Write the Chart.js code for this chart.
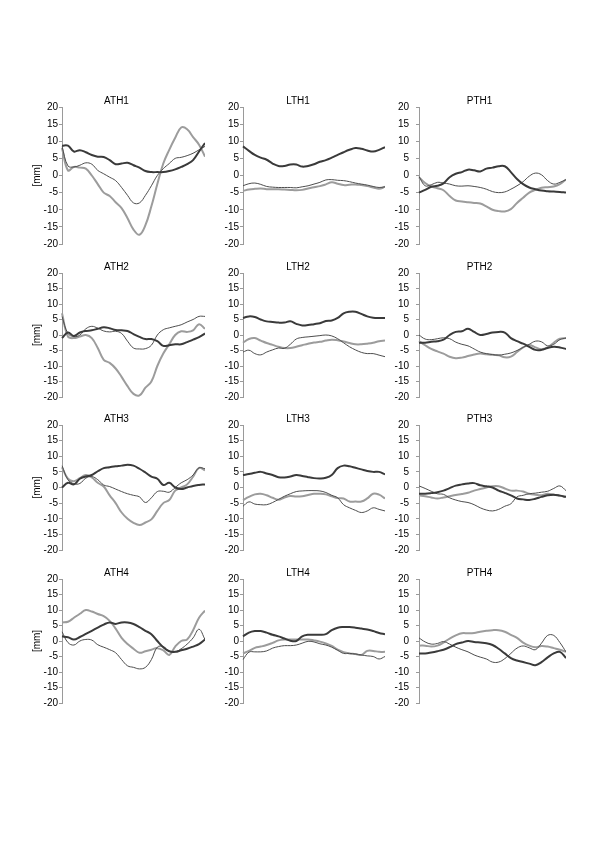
<!DOCTYPE html>
<html>
<head>
<meta charset="utf-8">
<style>
  body { margin: 0; background: #fff; }
  #page { position: relative; width: 600px; height: 849px; }
  #page canvas { position: absolute; }
</style>
</head>
<body>
<div id="page"></div>
<script src="https://cdn.jsdelivr.net/npm/chart.js"></script>
<script>
// x: sample index (no axis labels shown)
const samples = [1,2,3,4,5,6,7,8,9,10,11,12,13,14,15,16,17,18,19,20,21,22,23,24,25];
const yTicks = [-20, -15, -10, -5, 0, 5, 10, 15, 20];

// each panel: a = thick dark line, b = thin line, c = thick grey line  [mm]
const ATH1_a = [8.7, 8.7, 7, 7.4, 6.8, 6, 5.5, 5.4, 4.5, 3.3, 3.5, 3.7, 3, 2.3, 1.3, 1, 1, 1, 1.3, 1.8, 2.5, 3.3, 4.5, 7, 9.5];
const ATH1_b = [8.5, 2.8, 2.5, 3, 3.7, 3.3, 1.5, 0.5, -0.5, -1.5, -3.5, -5.8, -8, -8, -5.8, -3, 0, 2, 3.5, 5, 5.3, 5.8, 6.5, 7.5, 8.5];
const ATH1_c = [8, 1.5, 2.5, 2.3, 2, 0, -2.5, -5, -6, -7.8, -9.5, -12.5, -15.8, -17.3, -14.5, -9, -2.5, 3.5, 7.5, 11, 14, 13.5, 11.2, 9, 5.5];

const LTH1_a = [8.5, 7.2, 6, 5.2, 4.6, 3.5, 2.8, 2.8, 3.2, 3.2, 2.6, 2.8, 3.3, 4, 4.5, 5.2, 6, 6.8, 7.5, 8, 7.8, 7.3, 7, 7.5, 8.3];
const LTH1_b = [-3, -2.4, -2.2, -2.6, -3.2, -3.4, -3.5, -3.5, -3.5, -3.6, -3.3, -3, -2.5, -2, -1.3, -1.2, -1.4, -1.5, -1.8, -2.2, -2.5, -2.8, -3.2, -3.5, -3.3];
const LTH1_c = [-4.5, -4.1, -3.9, -3.8, -4, -4, -4, -4.1, -4.2, -4.3, -4.2, -3.8, -3.4, -3.1, -2.6, -2, -2.4, -2.8, -2.7, -2.6, -2.8, -3.1, -3.5, -3.9, -3.3];

const PTH1_a = [-5, -4.2, -3.3, -3, -2.3, -0.5, 0.5, 1, 1.7, 1.5, 1.2, 2, 2.3, 2.7, 2.7, 1, -1, -2.5, -3.5, -4, -4.4, -4.6, -4.7, -4.8, -5];
const PTH1_b = [-0.3, -3, -2.7, -2, -2.2, -2.5, -3, -3.1, -3, -3.2, -3.5, -4, -4.7, -5, -4.8, -4, -3, -1.8, -0.2, 0.7, 0.2, -1.5, -2.5, -2, -1.2];
const PTH1_c = [-0.5, -2.2, -3.2, -3.7, -4.3, -6, -7.3, -7.6, -7.8, -8, -8.2, -9, -10, -10.4, -10.5, -9.8, -8, -6.5, -5, -4.2, -3.6, -3.4, -3.2, -2.5, -1.2];

const ATH2_a = [-1, 0.8, -0.3, 0.8, 1.3, 1.5, 2, 2.5, 2.2, 1.6, 1.5, 1.3, 0.3, -0.6, -1.3, -1.3, -2, -3.5, -3.3, -3, -3, -2.3, -1.5, -0.7, 0.5];
const ATH2_b = [6, 0.5, -0.5, 0, 2, 2.8, 2.2, 1.3, 1, 1.2, 0.5, -2, -4.2, -4.5, -4.4, -3.3, 0, 1.7, 2.3, 2.8, 3.3, 4.2, 5, 6, 6];
const ATH2_c = [7, -0.5, -1, -0.5, 0, -1, -4.2, -8, -9, -10.8, -13.5, -16.5, -19, -19.5, -17, -15, -10, -6, -3, 0, 1.2, 1, 1.5, 3.5, 2];

const LTH2_a = [5.5, 6, 5.8, 5, 4.4, 4.2, 4, 4, 4.4, 3.6, 3.1, 3.2, 3.5, 3.8, 4.5, 4.7, 5.5, 7, 7.5, 7.5, 6.8, 6, 5.6, 5.5, 5.5];
const LTH2_b = [-5.5, -4.9, -6, -6.4, -5.5, -4.8, -4.2, -4.3, -3, -1.3, -0.8, -0.6, -0.4, -0.2, 0, -0.3, -1.2, -2.5, -3.8, -4.8, -5.6, -6, -6, -6.5, -7];
const LTH2_c = [-2.5, -1.3, -1, -1.8, -2.6, -3.2, -3.8, -4.2, -4.2, -3.8, -3.3, -2.8, -2.4, -2.2, -1.8, -1.5, -1.7, -2.1, -2.6, -3, -3, -2.8, -2.5, -2, -1.8];

const PTH2_a = [-2.5, -2.5, -2.2, -2, -1.5, 0, 1, 1.2, 2, 1, 0, 0.3, 0.8, 1, 0.8, -1, -2, -2.8, -3.8, -4.8, -4.8, -4.2, -3.8, -4, -4.5];
const PTH2_b = [0, -1.3, -1.5, -1.2, -0.9, -1.2, -2.3, -3, -3.5, -4.5, -5.5, -6, -6.3, -6.5, -6.2, -5.8, -5, -4, -3, -2, -2.2, -3.5, -3, -1.5, -1];
const PTH2_c = [-2, -3.3, -4.5, -5.3, -6, -7, -7.5, -7.3, -6.8, -6.3, -6, -6.2, -6.4, -6.5, -7.2, -7, -5.5, -4, -3.2, -4, -4.6, -4, -2.5, -1.2, -1];

const ATH3_a = [0, 1.5, 1, 2.8, 3.5, 4, 5.2, 6.2, 6.5, 6.8, 7, 7.3, 7, 6, 4.8, 3.5, 2.8, 0.8, 1.5, 0, -0.5, 0, 0.5, 0.8, 1];
const ATH3_b = [7, 2.5, 1.2, 1.3, 3, 3.5, 2.5, 0.8, 0.3, -0.5, -1.3, -2, -2.5, -3, -4.8, -3.3, -1.3, -1.2, -1.5, 0, 1.5, 2.5, 4, 6.3, 6];
const ATH3_c = [6.5, 2.8, 2, 3, 4, 3.2, 1.5, 0.3, -2.5, -5, -8, -10, -11.3, -12, -11.2, -10.2, -7.5, -5, -4, -1, 0, 1, 3.5, 6.3, 5.5];

const LTH3_a = [4, 4.3, 4.7, 5, 4.5, 4, 3.3, 3.2, 3.5, 4, 3.7, 3.3, 3, 2.9, 3.1, 4, 6.2, 7, 6.8, 6.3, 5.8, 5.3, 5, 5, 4.2];
const LTH3_b = [-6, -4.6, -5.3, -5.5, -5.5, -4.8, -3.8, -2.8, -2, -1.3, -1.1, -1, -1, -1.1, -1.6, -2.5, -3.3, -5.5, -6.5, -7.3, -8, -7.5, -6.5, -7, -7.5];
const LTH3_c = [-4, -3, -2.2, -2, -2.5, -3.3, -3.9, -3.2, -2.7, -2.9, -2.8, -2.4, -2, -2, -2.2, -2.8, -3.4, -3.5, -4.5, -4.5, -4.5, -3.5, -2, -2.3, -3.5];

const PTH3_a = [-2, -2, -1.8, -1.5, -1, -0.2, 0.6, 1, 1.3, 1.4, 0.7, 0.4, 0, -1, -1.7, -2.5, -3.5, -3.8, -4, -3.6, -3, -2.5, -2.3, -2.6, -3];
const PTH3_b = [0.5, -0.3, -1.2, -2, -2.2, -3.3, -4, -4.5, -4.8, -5.5, -6.5, -7.2, -7.5, -7, -6, -5.2, -3, -2.5, -2, -1.8, -1.5, -1.2, -0.3, 0.5, -1];
const PTH3_c = [-2.5, -2.8, -3.2, -3.5, -3.2, -2.8, -2.4, -2.1, -1.7, -1, -0.5, 0, 0.4, 0.4, -0.3, -1, -1, -1.3, -2, -2.3, -2.5, -2, -2.3, -2.6, -3];

const ATH4_a = [1.5, 1.2, 0.5, 1.3, 2.3, 3.3, 4.3, 5.3, 6, 5.5, 6, 6, 5.5, 4.5, 3.3, 2.2, 0, -2, -3.3, -3.5, -3, -2.5, -1.8, -1, 0.5];
const ATH4_b = [3, -0.5, -1.3, 0, 0.5, 0.3, -1.2, -2, -2.8, -3.8, -6, -8, -8.5, -9, -8.5, -6, -2, -1.8, -3.3, -3.5, -2.5, -1, 1, 3.8, 0.5];
const ATH4_c = [6, 6.2, 7.5, 8.8, 10, 9.5, 8.7, 8, 6.5, 4, 1, -1, -2.5, -3.8, -3.3, -2.8, -2.3, -3, -4.5, -1.8, 0, 0.5, 3.5, 7.5, 9.8];

const LTH4_a = [1.5, 2.7, 3.2, 3.2, 2.7, 2, 1.5, 0.8, 0.1, 0, 1.5, 2, 2, 2, 2.2, 3.5, 4.3, 4.5, 4.5, 4.3, 4, 3.7, 3.2, 2.6, 2.2];
const LTH4_b = [-6, -3.6, -3.5, -3.5, -3.2, -2.3, -1.8, -1.5, -1.5, -1.3, -0.7, -0.1, -0.3, -0.9, -1.3, -2, -3, -4, -4, -4.2, -4.5, -4.8, -5, -5.8, -5];
const LTH4_c = [-4, -3.2, -2.2, -1.8, -1.3, -0.6, 0.2, 0.5, 0.5, 0.5, 0.5, 0.5, 0.2, -0.2, -0.8, -1.6, -2.8, -3.6, -4, -4.2, -4.5, -3.2, -3.2, -3.5, -3.5];

const PTH4_a = [-4, -4, -3.7, -3.3, -2.8, -2, -1, -0.5, 0, -0.3, -0.5, -0.7, -1.3, -2.5, -4, -5.5, -6.3, -6.8, -7.3, -7.8, -6.8, -5.3, -4, -3.5, -5.5];
const PTH4_b = [1, -0.3, -1, -0.8, -0.2, -1, -2, -2.8, -3.5, -4.5, -5.2, -5.8, -6.8, -6.8, -5.7, -4, -2.3, -1.6, -2.2, -2.8, -0.7, 1.8, 1.8, -0.5, -3.5];
const PTH4_c = [-1.5, -1.5, -1.8, -1.5, -0.5, 0.8, 1.8, 2.5, 2.5, 2.6, 3, 3.3, 3.5, 3.5, 3, 2, 1, -0.5, -1.5, -2, -1.6, -1.8, -2.3, -2.8, -3.5];

const panels = [
  ['ATH1', 0, 0, ATH1_a, ATH1_b, ATH1_c], ['LTH1', 1, 0, LTH1_a, LTH1_b, LTH1_c], ['PTH1', 2, 0, PTH1_a, PTH1_b, PTH1_c],
  ['ATH2', 0, 1, ATH2_a, ATH2_b, ATH2_c], ['LTH2', 1, 1, LTH2_a, LTH2_b, LTH2_c], ['PTH2', 2, 1, PTH2_a, PTH2_b, PTH2_c],
  ['ATH3', 0, 2, ATH3_a, ATH3_b, ATH3_c], ['LTH3', 1, 2, LTH3_a, LTH3_b, LTH3_c], ['PTH3', 2, 2, PTH3_a, PTH3_b, PTH3_c],
  ['ATH4', 0, 3, ATH4_a, ATH4_b, ATH4_c], ['LTH4', 1, 3, LTH4_a, LTH4_b, LTH4_c], ['PTH4', 2, 3, PTH4_a, PTH4_b, PTH4_c],
];

// page layout (px)
const colLeft  = [28, 211, 393];   // canvas left
const colAxis  = [62, 243, 419];   // y axis line
const colRight = [205, 385, 566];  // plot right edge
const colTickPad = [1, 1, 7];
const rowTop    = [107, 273, 425, 579]; // y = 20
const rowBottom = [244, 397, 550, 703]; // y = -20
const TITLE_H = 12, BOTTOM_H = 6;
const FONT = 'Liberation Sans, Arial, sans-serif';

const page = document.getElementById('page');

panels.forEach(([name, col, row, a, b, c]) => {
  const canvas = document.createElement('canvas');
  const w = colRight[col] - colLeft[col];
  const h = TITLE_H + (rowBottom[row] - rowTop[row]) + BOTTOM_H;
  canvas.width = w;
  canvas.height = h;
  canvas.style.left = colLeft[col] + 'px';
  canvas.style.top = (rowTop[row] - TITLE_H) + 'px';
  page.appendChild(canvas);
  const yWidth = colAxis[col] - colLeft[col];

  new Chart(canvas, {
    type: 'line',
    data: {
      labels: samples,
      datasets: [
        { data: a, borderColor: '#3a3a3a', borderWidth: 2 },
        { data: b, borderColor: '#4d4d4d', borderWidth: 1 },
        { data: c, borderColor: '#9c9c9c', borderWidth: 2 },
      ]
    },
    options: {
      responsive: false,
      animation: false,
      layout: { padding: 0 },
      elements: { point: { radius: 0 }, line: { tension: 0.4 } },
      plugins: {
        legend: { display: false },
        tooltip: { enabled: false },
        title: {
          display: true, text: name, color: '#000',
          font: { family: FONT, size: 10, weight: 'normal' },
          padding: 0
        }
      },
      scales: {
        x: { display: false },
        y: {
          min: -20, max: 20,
          afterBuildTicks: s => { s.ticks = yTicks.map(v => ({ value: v })); },
          afterFit: s => {
            s.width = yWidth;
            // keep vertical padding independent of the tick label gap
            s.paddingTop = 6;
            s.paddingBottom = 6;
          },
          border: { display: true, color: '#9a9a9a', width: 1 },
          grid: { drawOnChartArea: false, drawTicks: true, tickLength: 3, color: '#9a9a9a' },
          ticks: {
            color: '#000', padding: colTickPad[col],
            font: { family: FONT, size: 10 }
          },
          title: {
            display: col === 0, text: '[mm]', color: '#000',
            font: { family: FONT, size: 10 },
            padding: { top: 3, bottom: 0 }
          }
        }
      }
    }
  });
});
</script>
</body>
</html>
